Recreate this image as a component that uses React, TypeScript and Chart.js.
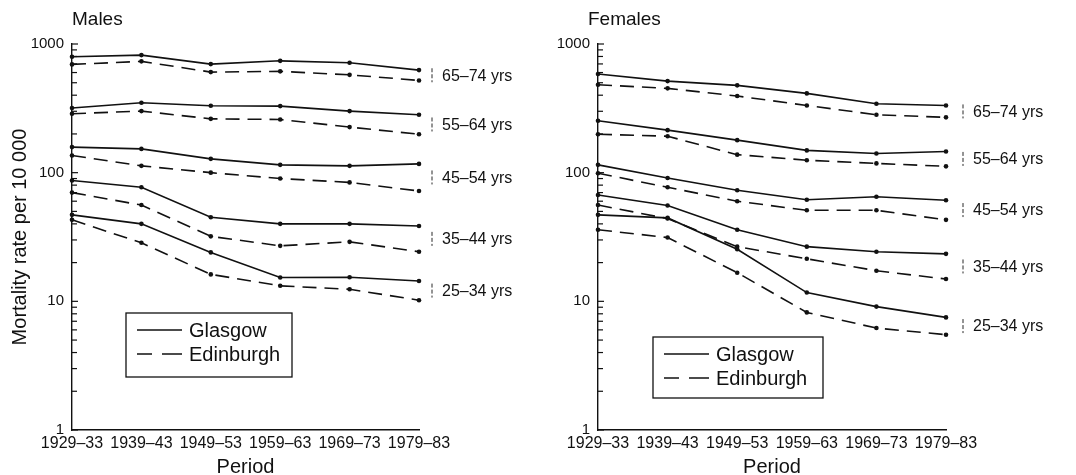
import { useEffect, useRef } from "react";
import { Chart, registerables } from "chart.js";

Chart.register(...registerables);

// ---------- data ----------
const periods = ["1929–33", "1939–43", "1949–53", "1959–63", "1969–73", "1979–83"];
const ageLabels = ["65–74 yrs", "55–64 yrs", "45–54 yrs", "35–44 yrs", "25–34 yrs"];
const cities = ["Glasgow", "Edinburgh"];
const yMajorTicks = [1, 10, 100, 1000];

// Males (rate per 10 000)
const malesGlasgow65 = [796, 820, 698, 740, 715, 627];
const malesEdinburgh65 = [694, 733, 605, 613, 576, 521];
const malesGlasgow55 = [318, 349, 331, 329, 301, 282];
const malesEdinburgh55 = [287, 301, 262, 259, 226, 199];
const malesGlasgow45 = [158, 153, 128, 115, 113, 117];
const malesEdinburgh45 = [136, 113, 100, 90, 84, 72];
const malesGlasgow35 = [87, 77, 45, 40, 40, 38.5];
const malesEdinburgh35 = [70, 56, 32, 27, 29, 24.3];
const malesGlasgow25 = [47, 40, 24, 15.3, 15.4, 14.4];
const malesEdinburgh25 = [43, 28.5, 16.2, 13.2, 12.4, 10.2];

// Females (rate per 10 000)
const femalesGlasgow65 = [584, 515, 477, 413, 343, 333];
const femalesEdinburgh65 = [482, 452, 394, 333, 282, 269];
const femalesGlasgow55 = [253, 214, 179, 149, 141, 146];
const femalesEdinburgh55 = [199, 192, 138, 125, 118, 112];
const femalesGlasgow45 = [115, 91, 73, 61.6, 65, 61];
const femalesEdinburgh45 = [99, 77, 60, 51, 51, 43];
const femalesGlasgow35 = [67, 55.5, 36, 26.6, 24.3, 23.4];
const femalesEdinburgh35 = [56, 44, 26.6, 21.4, 17.3, 14.9];
const femalesGlasgow25 = [47, 44.5, 25.4, 11.7, 9.1, 7.5];
const femalesEdinburgh25 = [36, 31.3, 16.7, 8.2, 6.2, 5.5];

const malesGroups = [
  [malesGlasgow65, malesEdinburgh65],
  [malesGlasgow55, malesEdinburgh55],
  [malesGlasgow45, malesEdinburgh45],
  [malesGlasgow35, malesEdinburgh35],
  [malesGlasgow25, malesEdinburgh25],
];
const femalesGroups = [
  [femalesGlasgow65, femalesEdinburgh65],
  [femalesGlasgow55, femalesEdinburgh55],
  [femalesGlasgow45, femalesEdinburgh45],
  [femalesGlasgow35, femalesEdinburgh35],
  [femalesGlasgow25, femalesEdinburgh25],
];

// ---------- style ----------
const FONT = '"Liberation Sans", Arial, Helvetica, sans-serif';
const INK = "#111111";
const DASH = [14, 8];
const LINE_W = 1.6;

type PanelCfg = {
  title: string;
  titleDx: number;
  groups: number[][][];
  showYTitle: boolean;
  axisWidth: number;
  padRight: number;
  legend: { dx: number; top: number; w: number; h: number };
  braceDx: number;
};

function makeChart(canvas: HTMLCanvasElement, p: PanelCfg) {
  const datasets: any[] = [];
  p.groups.forEach((g, gi) => {
    g.forEach((series, ci) => {
      datasets.push({
        label: cities[ci] + " " + ageLabels[gi],
        data: series,
        borderColor: INK,
        backgroundColor: INK,
        borderWidth: LINE_W,
        borderDash: ci === 1 ? DASH : [],
        pointRadius: 2.3,
        pointBorderWidth: 0,
        pointBackgroundColor: INK,
        tension: 0,
        clip: false,
      });
    });
  });

  const decor = {
    id: "decor",
    afterDraw(chart: any) {
      const ctx = chart.ctx;
      const area = chart.chartArea;
      const y = chart.scales.y;
      ctx.save();
      // y-axis ticks (inside)
      ctx.strokeStyle = INK;
      ctx.lineWidth = 1.2;
      for (let d = 1; d <= 1000; d *= 10) {
        for (let k = 1; k <= 9; k++) {
          const v = d * k;
          if (v > 1000) break;
          const py = y.getPixelForValue(v);
          const len = k === 1 ? 6 : 5;
          ctx.beginPath();
          ctx.moveTo(area.left, py);
          ctx.lineTo(area.left + len, py);
          ctx.stroke();
        }
      }
      // panel title
      ctx.fillStyle = INK;
      ctx.font = `19px ${FONT}`;
      ctx.textBaseline = "middle";
      ctx.textAlign = "left";
      ctx.fillText(p.title, area.left + p.titleDx, 20);
      // age group labels with braces
      ctx.font = `16px ${FONT}`;
      p.groups.forEach((g, gi) => {
        const last = g[0].length - 1;
        const py = (y.getPixelForValue(g[0][last]) + y.getPixelForValue(g[1][last])) / 2;
        const bx = area.right + p.braceDx;
        ctx.lineWidth = 0.9;
        ctx.setLineDash([4, 2]);
        ctx.beginPath();
        ctx.moveTo(bx, py - 7);
        ctx.lineTo(bx, py + 7);
        ctx.stroke();
        ctx.setLineDash([]);
        ctx.fillText(ageLabels[gi], bx + 10, py + 1);
      });
      // legend box
      const L = p.legend;
      const lx = area.left + L.dx;
      ctx.lineWidth = 1.3;
      ctx.strokeRect(lx, L.top, L.w, L.h);
      ctx.font = `20px ${FONT}`;
      cities.forEach((c, ci) => {
        const ry = L.top + 17 + ci * 24;
        ctx.lineWidth = LINE_W;
        ctx.beginPath();
        if (ci === 0) {
          ctx.moveTo(lx + 11, ry);
          ctx.lineTo(lx + 56, ry);
        } else {
          ctx.moveTo(lx + 11, ry);
          ctx.lineTo(lx + 26, ry);
          ctx.moveTo(lx + 36, ry);
          ctx.lineTo(lx + 56, ry);
        }
        ctx.stroke();
        ctx.fillText(c, lx + 63, ry + 1);
      });
      ctx.restore();
    },
  };

  return new Chart(canvas, {
    type: "line",
    data: { labels: periods, datasets },
    plugins: [decor],
    options: {
      animation: false,
      responsive: false,
      devicePixelRatio: 1,
      layout: { padding: { left: 0, top: 44, right: p.padRight, bottom: 0 } },
      plugins: {
        legend: { display: false },
        tooltip: { enabled: false },
        title: { display: false },
      },
      scales: {
        x: {
          type: "category",
          offset: false,
          grid: { display: false, drawTicks: false },
          border: { display: true, color: INK, width: 1.4 },
          ticks: {
            color: INK,
            font: { family: FONT, size: 16 },
            padding: 4,
            maxRotation: 0,
            autoSkip: false,
          },
          title: {
            display: true,
            text: "Period",
            color: INK,
            font: { family: FONT, size: 20, lineHeight: 1 },
            padding: { top: 0, bottom: -2 },
          },
          afterFit: (s: any) => {
            s.height = 45;
          },
        },
        y: {
          type: "logarithmic",
          min: 1,
          max: 1000,
          grid: { display: false, drawTicks: false },
          border: { display: true, color: INK, width: 1.4 },
          ticks: {
            color: INK,
            font: { family: FONT, size: 15 },
            padding: 8,
            autoSkip: false,
            callback: (v: any) => (yMajorTicks.includes(Number(v)) ? String(v) : ""),
          },
          title: {
            display: p.showYTitle,
            text: "Mortality rate per 10 000",
            color: INK,
            font: { family: FONT, size: 20, lineHeight: 1 },
            padding: { top: 10, bottom: 0 },
          },
          afterFit: (s: any) => {
            s.width = p.axisWidth;
          },
        },
      },
    } as any,
  });
}

const malesPanel: PanelCfg = {
  title: "Males",
  titleDx: 0,
  groups: malesGroups,
  showYTitle: true,
  axisWidth: 72,
  padRight: 121,
  legend: { dx: 54, top: 313, w: 166, h: 64 },
  braceDx: 13,
};

const femalesPanel: PanelCfg = {
  title: "Females",
  titleDx: -10,
  groups: femalesGroups,
  showYTitle: false,
  axisWidth: 62,
  padRight: 130,
  legend: { dx: 55, top: 337, w: 170, h: 61 },
  braceDx: 17,
};

function Panel({ cfg, left }: { cfg: PanelCfg; left: number }) {
  const ref = useRef<HTMLCanvasElement | null>(null);
  useEffect(() => {
    if (!ref.current) return;
    const chart = makeChart(ref.current, cfg);
    return () => chart.destroy();
  }, [cfg]);
  return (
    <div style={{ position: "absolute", left, top: 0, width: 540, height: 475 }}>
      <canvas ref={ref} width={540} height={475} style={{ display: "block" }} />
    </div>
  );
}

export default function App() {
  return (
    <div
      style={{
        position: "fixed",
        left: 0,
        top: 0,
        width: 1076,
        height: 475,
        overflow: "hidden",
        background: "#ffffff",
      }}
    >
      <Panel cfg={malesPanel} left={0} />
      <Panel cfg={femalesPanel} left={536} />
    </div>
  );
}
